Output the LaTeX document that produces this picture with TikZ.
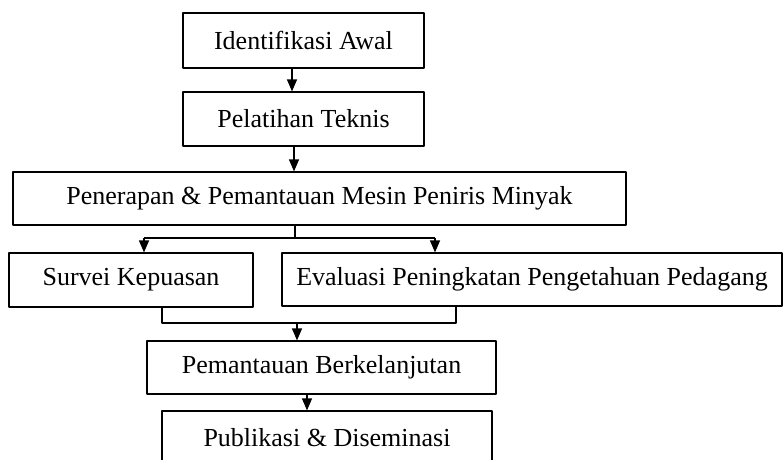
\documentclass[tikz,border=0pt]{standalone}
\usepackage{fontspec}
\setmainfont{Liberation Serif}
\usetikzlibrary{arrows.meta}

\tikzset{
	kotak/.style={draw, line width=1.2pt, inner sep=0pt, align=center},
}

\begin{document}
\begin{tikzpicture}[x=1pt, y=-1pt, >={Triangle[length=12pt,width=10pt]}, line width=1.2pt,
	font=\fontsize{26}{31}\selectfont, line join=round]
	\useasboundingbox (0,0) rectangle (783,459);
	\clip (0,0) rectangle (783,459);
	% kotak-kotak tahapan
	\node[kotak, minimum width=241pt, minimum height=55pt] (ident) at (303.5,40.5) {Identifikasi Awal};
	\node[kotak, minimum width=241pt, minimum height=54pt] (latih) at (303.5,119) {Pelatihan Teknis};
	\node[kotak, minimum width=613pt, minimum height=53pt] (terap) at (319.5,198.5) {Penerapan \& Pemantauan Mesin Peniris Minyak};
	\node[kotak, minimum width=244pt, minimum height=54pt] (survei) at (131,280) {Survei Kepuasan};
	\node[kotak, minimum width=500pt, minimum height=53pt] (evaluasi) at (532,279.5) {Evaluasi Peningkatan Pengetahuan Pedagang};
	\node[kotak, minimum width=349pt, minimum height=53pt] (pantau) at (321.5,367.5) {Pemantauan Berkelanjutan};
	\node[kotak, minimum width=330pt, minimum height=54pt] (publik) at (327,438) {Publikasi \& Diseminasi};
	% titik belok
	\coordinate (a1) at (292,0);
	\coordinate (a2) at (294,0);
	\coordinate (cab) at (295,238);
	\coordinate (cabL) at (144,238);
	\coordinate (cabR) at (435,238);
	\coordinate (gabL) at (162,323);
	\coordinate (gabR) at (456,323);
	\coordinate (gab) at (297,323);
	\coordinate (a3) at (307,0);
	% panah
	\draw[->] (ident.south -| a1) -- (latih.north -| a1);
	\draw[->] (latih.south -| a2) -- (terap.north -| a2);
	\draw (terap.south -| cab) -- (cab);
	\draw (cabL) -- (cabR);
	\draw[->] (cabL) -- (survei.north -| cabL);
	\draw[->] (cabR) -- (evaluasi.north -| cabR);
	\draw (survei.south -| gabL) -- (gabL) -- (gabR) -- (evaluasi.south -| gabR);
	\draw[->] (gab) -- (pantau.north -| gab);
	\draw[->] (pantau.south -| a3) -- (publik.north -| a3);
\end{tikzpicture}
\end{document}
